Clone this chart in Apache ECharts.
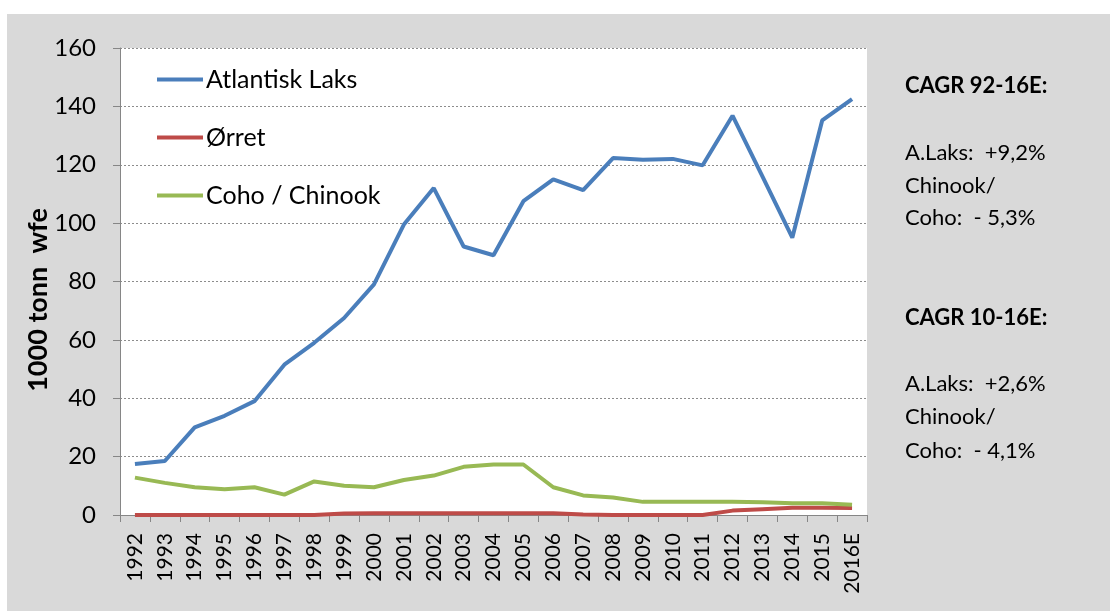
<!DOCTYPE html>
<html lang="no">
<head>
  <meta charset="utf-8" />
  <title>Produksjon laks</title>
  <script src="https://cdn.jsdelivr.net/npm/echarts@6/dist/echarts.min.js"></script>
  <style>
    html, body { margin: 0; padding: 0; background: #fff; }
    #box { position: absolute; left: 7px; top: 14px; width: 1103px; height: 597px; background: #d9d9d9; }
    #chart { width: 1103px; height: 597px; }
  </style>
</head>
<body>
  <div id="box"><div id="chart"></div></div>
<script>
  "use strict";

  var years = ['1992', '1993', '1994', '1995', '1996', '1997', '1998', '1999', '2000', '2001',
    '2002', '2003', '2004', '2005', '2006', '2007', '2008', '2009', '2010', '2011',
    '2012', '2013', '2014', '2015', '2016E'];
  // 1000 tonn wfe
  var atlantiskLaks = [17.5, 18.5, 30, 34, 39, 51.5, 59, 67.5, 79, 99.5,
    112, 92, 89, 107.5, 115, 111.3, 122.3, 121.7, 122, 119.8,
    136.8, 116, 95, 135.2, 142.5];
  var orret = [0, 0, 0, 0, 0, 0, 0, 0.5, 0.6, 0.6,
    0.6, 0.6, 0.6, 0.6, 0.6, 0.2, 0, 0, 0, 0,
    1.5, 2, 2.5, 2.5, 2.4];
  var cohoChinook = [12.8, 11, 9.5, 8.8, 9.5, 7, 11.5, 10, 9.5, 12,
    13.5, 16.5, 17.3, 17.3, 9.5, 6.7, 6, 4.5, 4.5, 4.5,
    4.5, 4.4, 4, 4, 3.5];
  var yTicks = [0, 20, 40, 60, 80, 100, 120, 140, 160];

  var font = 'Lato, "Open Sans", sans-serif';
  var myChart = echarts.init(document.getElementById('chart'));

  function line(name, data, color) {
    return {
      name: name,
      type: 'line',
      data: data,
      symbol: 'none',
      lineStyle: { color: color, width: 4 },
      itemStyle: { color: color },
      animation: false
    };
  }

  // tekst til høyre, y = midten av linja (sidekoordinater)
  var sideText = function (text, y, bold) {
    return {
      type: 'text',
      x: 898,
      y: y - 14,
      style: {
        text: text,
        font: (bold ? 'bold ' : '') + '22px ' + font,
        fill: '#000',
        verticalAlign: 'middle'
      }
    };
  };

  var option = {
    backgroundColor: 'transparent',
    textStyle: { fontFamily: font },
    grid: {
      left: 113,
      right: 243,
      top: 34,
      bottom: 96,
      show: true,
      backgroundColor: '#fff',
      borderWidth: 0
    },
    legend: {
      orient: 'vertical',
      left: 145,
      top: 48,
      itemGap: 33,
      itemWidth: 46,
      itemHeight: 4,
      icon: 'rect',
      textStyle: { fontSize: 25, color: '#000', padding: [0, 0, 0, -2] },
      data: ['Atlantisk Laks', 'Ørret', 'Coho / Chinook']
    },
    xAxis: {
      type: 'category',
      data: years,
      boundaryGap: true,
      axisLine: { lineStyle: { color: '#868686', width: 1 } },
      axisTick: { show: true, length: 7, alignWithLabel: false, lineStyle: { color: '#868686' } },
      axisLabel: { rotate: 90, fontSize: 21, color: '#000', margin: 18, interval: 0 }
    },
    yAxis: {
      type: 'value',
      min: yTicks[0],
      max: yTicks[yTicks.length - 1],
      interval: 20,
      axisLine: { show: true, lineStyle: { color: '#868686', width: 1 } },
      axisTick: { show: true, length: 7, lineStyle: { color: '#868686' } },
      axisLabel: { fontSize: 24, color: '#000', margin: 24 },
      splitLine: { lineStyle: { color: '#8c8c8c', width: 1, type: [2, 2] } }
    },
    series: [
      line('Atlantisk Laks', atlantiskLaks, '#4a7ebb'),
      line('Ørret', orret, '#be4b48'),
      line('Coho / Chinook', cohoChinook, '#98b954')
    ],
    graphic: [
      {
        type: 'text',
        x: 31,
        y: 286,
        rotation: Math.PI / 2,
        style: {
          text: '1000 tonn  wfe',
          font: 'bold 27px ' + font,
          fill: '#000',
          align: 'center',
          verticalAlign: 'middle'
        }
      },
      sideText('CAGR 92-16E:', 86, true),
      sideText('A.Laks:  +9,2%', 153, false),
      sideText('Chinook/', 186, false),
      sideText('Coho:  - 5,3%', 218, false),
      sideText('CAGR 10-16E:', 318, true),
      sideText('A.Laks:  +2,6%', 384, false),
      sideText('Chinook/', 417, false),
      sideText('Coho:  - 4,1%', 451, false)
    ]
  };

  myChart.setOption(option);
</script>
</body>
</html>
